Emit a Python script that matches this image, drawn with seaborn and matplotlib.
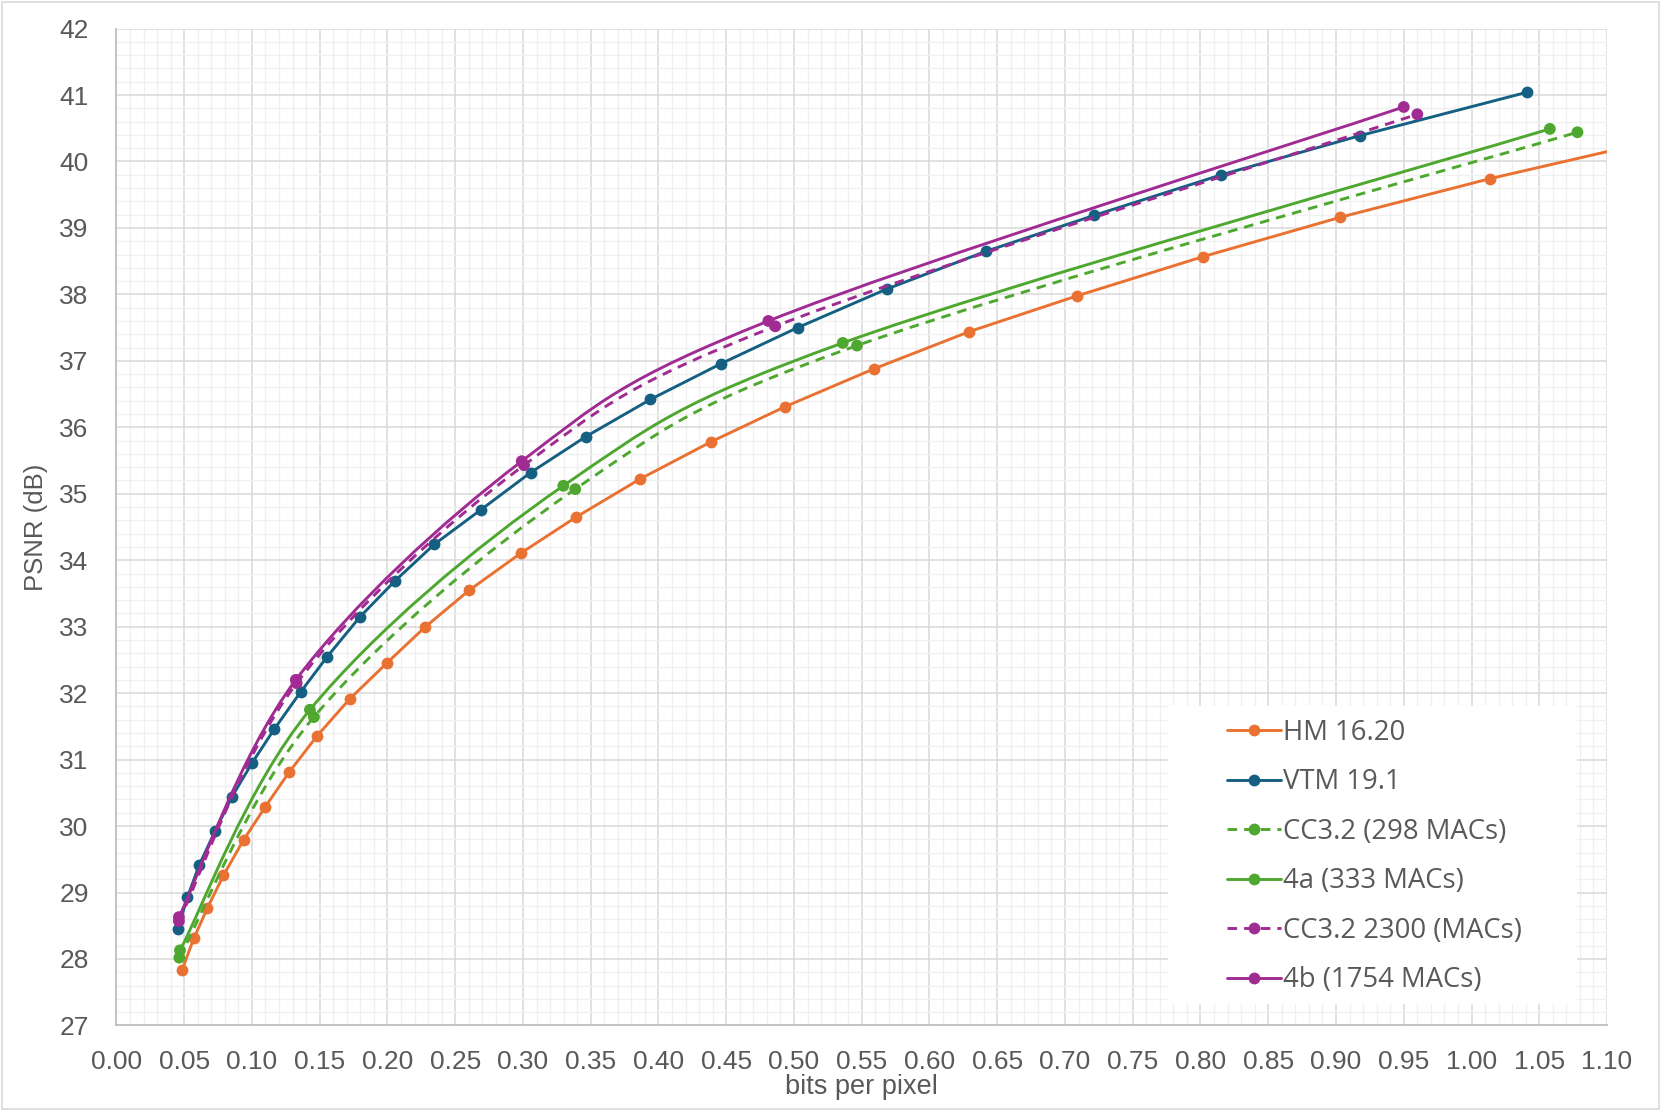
import matplotlib
matplotlib.use('Agg')
import numpy as np
import pandas as pd
import matplotlib.pyplot as plt
import seaborn as sns
from matplotlib.path import Path
from matplotlib.patches import PathPatch, Rectangle
from matplotlib.lines import Line2D
from matplotlib.ticker import MultipleLocator, FormatStrFormatter

# valores
hm_bpp = [0.0485, 0.0571, 0.0672, 0.0790, 0.0938, 0.1095, 0.1274, 0.1478, 0.1720, 0.1994,
          0.2275, 0.2604, 0.2987, 0.3393, 0.3862, 0.4386, 0.4934, 0.5590, 0.6294, 0.7092,
          0.8022, 0.9031, 1.0133, 1.1345]
hm_psnr = [27.84, 28.31, 28.77, 29.26, 29.79, 30.28, 30.81, 31.35, 31.91, 32.45,
           32.99, 33.55, 34.11, 34.65, 35.22, 35.78, 36.31, 36.88, 37.44, 37.98,
           38.57, 39.16, 39.74, 40.31]

vtm_bpp = [0.0453, 0.0524, 0.0610, 0.0727, 0.0852, 0.1001, 0.1165, 0.1360, 0.1556, 0.1798,
           0.2056, 0.2346, 0.2690, 0.3057, 0.3464, 0.3941, 0.4464, 0.5027, 0.5684, 0.6419,
           0.7217, 0.8155, 0.9179, 1.0407]
vtm_psnr = [28.45, 28.93, 29.41, 29.92, 30.44, 30.95, 31.46, 32.02, 32.55, 33.15,
            33.69, 34.24, 34.76, 35.32, 35.86, 36.42, 36.96, 37.50, 38.08, 38.65,
            39.19, 39.80, 40.39, 41.04]

cc298_bpp = [0.0464, 0.1457, 0.3386, 0.5465, 1.0782]
cc298_psnr = [28.02, 31.64, 35.07, 37.23, 40.44]

m4a_bpp = [0.0469, 0.1428, 0.3298, 0.5360, 1.0578]
m4a_psnr = [28.13, 31.75, 35.12, 37.27, 40.49]

cc2300_bpp = [0.0461, 0.1330, 0.3008, 0.4862, 0.9600]
cc2300_psnr = [28.57, 32.15, 35.43, 37.52, 40.71]

m4b_bpp = [0.0461, 0.1324, 0.2991, 0.4811, 0.9500]
m4b_psnr = [28.63, 32.20, 35.49, 37.60, 40.82]

nomes = ['HM 16.20', 'VTM 19.1', 'CC3.2 (298 MACs)', '4a (333 MACs)',
         'CC3.2 2300 (MACs)', '4b (1754 MACs)']
cores = ['#E97132', '#156082', '#4EA72E', '#4EA72E', '#A02B93', '#A02B93']
tracejado = [False, False, True, False, True, False]

sns.set_style('white')
plt.rcParams['font.family'] = ['Liberation Sans', 'DejaVu Sans']

cinza = '#595959'
lw = 2.1
ms = 8.5
dash = (0, (3.3, 2.4))

fig = plt.figure(figsize=(16.61, 11.11), dpi=100)
ax = fig.add_axes([0.0701, 0.0770, 0.8974, 0.8973])


def curva_suave(xs, ys):
    # curva tipo "linha suavizada" do Excel (bezier pelos pontos)
    pts = np.column_stack([xs, ys])
    n = len(pts)
    verts = [pts[0]]
    codes = [Path.MOVETO]
    for i in range(n - 1):
        p0 = pts[max(i - 1, 0)]
        p1 = pts[i]
        p2 = pts[i + 1]
        p3 = pts[min(i + 2, n - 1)]
        verts += [p1 + (p2 - p0) / 6, p2 - (p3 - p1) / 6, p2]
        codes += [Path.CURVE4] * 3
    return Path(verts, codes)


# series com linhas retas
df_hm = pd.DataFrame({'bpp': hm_bpp, 'psnr': hm_psnr})
df_vtm = pd.DataFrame({'bpp': vtm_bpp, 'psnr': vtm_psnr})
sns.lineplot(data=df_hm, x='bpp', y='psnr', color=cores[0], lw=lw, marker='o',
             markersize=ms, markeredgewidth=0, sort=False, ax=ax, zorder=3)
sns.lineplot(data=df_vtm, x='bpp', y='psnr', color=cores[1], lw=lw, marker='o',
             markersize=ms, markeredgewidth=0, sort=False, ax=ax, zorder=3)

# series com linhas suavizadas
suaves = [(cc298_bpp, cc298_psnr, 2), (m4a_bpp, m4a_psnr, 3),
          (cc2300_bpp, cc2300_psnr, 4), (m4b_bpp, m4b_psnr, 5)]
for xs, ys, k in suaves:
    estilo = dash if tracejado[k] else '-'
    ax.add_patch(PathPatch(curva_suave(xs, ys), facecolor='none', edgecolor=cores[k],
                           lw=lw, linestyle=estilo, zorder=3 + k * 0.1))
    sns.scatterplot(x=xs, y=ys, color=cores[k], s=ms ** 2, edgecolor='none', ax=ax,
                    zorder=3.05 + k * 0.1)

ax.set_xlim(0, 1.10)
ax.set_ylim(27, 42)
ax.xaxis.set_major_locator(MultipleLocator(0.05))
ax.xaxis.set_minor_locator(MultipleLocator(0.01))
ax.yaxis.set_major_locator(MultipleLocator(1))
ax.yaxis.set_minor_locator(MultipleLocator(0.2))
ax.xaxis.set_major_formatter(FormatStrFormatter('%.2f'))
ax.yaxis.set_major_formatter(FormatStrFormatter('%d'))
ax.grid(which='major', color='#D9D9D9', lw=1.1, zorder=0)
ax.grid(which='minor', color='#F0F0F0', lw=1.0, zorder=0)
ax.set_axisbelow(True)
ax.tick_params(which='both', length=0, colors=cinza, labelsize=19)
ax.tick_params(axis='x', pad=18)
ax.tick_params(axis='y', pad=20)
for s in ['top', 'right']:
    ax.spines[s].set_visible(False)
for s in ['left', 'bottom']:
    ax.spines[s].set_color('#BFBFBF')
    ax.spines[s].set_linewidth(1.3)

ax.set_xlabel('bits per pixel', fontsize=19.5, color=cinza, labelpad=0)
ax.set_ylabel('PSNR (dB)', fontsize=18.5, color=cinza, labelpad=8)

# legenda com fundo branco
ax.add_patch(Rectangle((0.7055, 0.0215), 0.2745, 0.299, transform=ax.transAxes,
                       facecolor='white', edgecolor='none', zorder=4))
handles = []
for k in range(6):
    handles.append(Line2D([0], [0], color=cores[k], lw=lw, marker='o', markersize=ms,
                          markeredgewidth=0, linestyle=dash if tracejado[k] else '-'))
leg = ax.legend(handles, nomes, loc='upper left', bbox_to_anchor=(0.745, 0.3075),
                frameon=False, borderpad=0, borderaxespad=0, handlelength=1.95,
                handletextpad=0.1, labelspacing=0.78,
                prop={'family': ['Open Sans', 'DejaVu Sans'], 'size': 19.8})
leg.set_zorder(5)
for t in leg.get_texts():
    t.set_color(cinza)

fig.patches.append(Rectangle((0.0012, 0.0018), 0.9976, 0.9964, transform=fig.transFigure,
                             fill=False, edgecolor='#D9D9D9', lw=1.2))

plt.savefig('out.png', dpi=100)
